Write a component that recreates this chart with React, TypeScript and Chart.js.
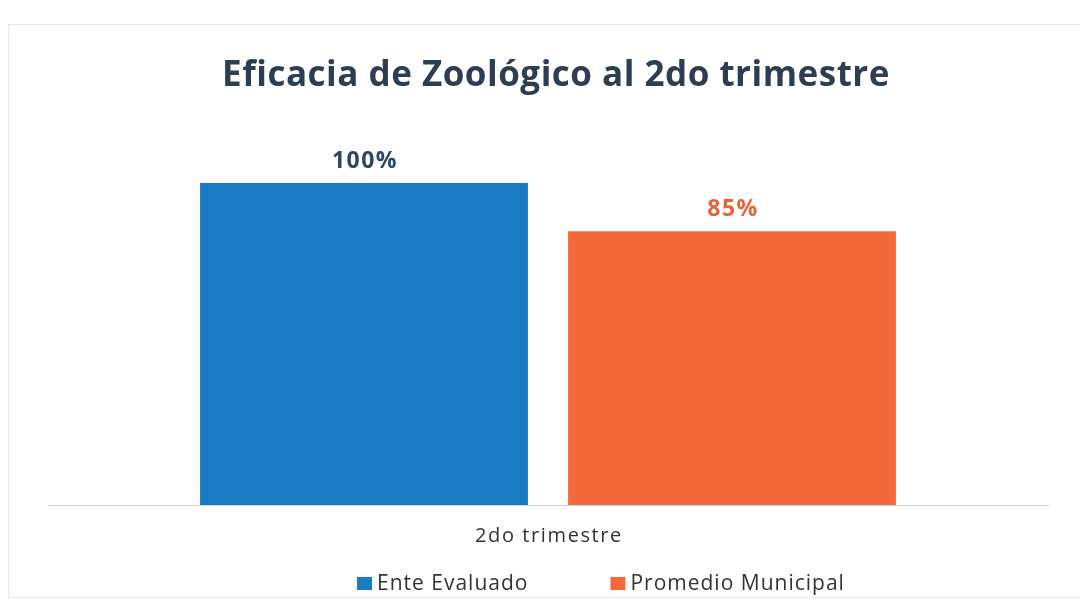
import React, { useEffect, useRef } from "react";
import { Chart, registerables } from "chart.js";

Chart.register(...registerables);

const title = "Eficacia de Zoológico al 2do trimestre";
const categories = ["2do trimestre"];
const seriesNames = ["Ente Evaluado", "Promedio Municipal"];
const enteEvaluado = [100];
const promedioMunicipal = [85];
const seriesColors = ["#1b7bc3", "#f4693a"];
const labelColors = ["#2b4767", "#e8643a"];

const FONT = "'Open Sans', 'Noto Sans', sans-serif";

const overlayPlugin = {
  id: "overlay",
  afterDatasetsDraw(chart: any) {
    const ctx = chart.ctx;
    ctx.save();
    // value labels
    chart.data.datasets.forEach((ds: any, di: number) => {
      const meta = chart.getDatasetMeta(di);
      meta.data.forEach((bar: any, i: number) => {
        ctx.font = `bold 23px ${FONT}`;
        ctx.letterSpacing = "1.5px";
        ctx.fillStyle = labelColors[di];
        ctx.textAlign = "center";
        ctx.textBaseline = "alphabetic";
        ctx.fillText(`${ds.data[i]}%`, bar.x + 1, bar.y - 15);
      });
    });
    // category label
    const xs = chart.scales.x;
    ctx.font = `500 20px ${FONT}`;
    ctx.letterSpacing = "1.6px";
    ctx.fillStyle = "#333333";
    ctx.textAlign = "center";
    ctx.textBaseline = "alphabetic";
    categories.forEach((c, i) => {
      ctx.fillText(c, xs.getPixelForValue(i) + 1, chart.chartArea.bottom + 37);
    });
    // title
    ctx.font = `bold 35px ${FONT}`;
    ctx.letterSpacing = "0.5px";
    ctx.fillStyle = "#2e3e52";
    ctx.textAlign = "center";
    ctx.textBaseline = "alphabetic";
    ctx.fillText(title, 556, 86);
    // legend
    ctx.font = `500 21px ${FONT}`;
    ctx.letterSpacing = "1px";
    ctx.textBaseline = "alphabetic";
    ctx.textAlign = "left";
    const baseline = 590;
    const gap = 82;
    const boxW = 15;
    const boxH = 13;
    const textGap = 5;
    const widths = seriesNames.map((n) => boxW + textGap + ctx.measureText(n).width);
    let x = 357;
    seriesNames.forEach((n, i) => {
      ctx.fillStyle = seriesColors[i];
      ctx.fillRect(x, baseline - boxH, boxW, boxH);
      ctx.fillStyle = "#333333";
      ctx.fillText(n, x + boxW + textGap, baseline);
      x += widths[i] + gap;
    });
    ctx.restore();
  },
};

export default function App() {
  const ref = useRef<HTMLCanvasElement>(null);
  useEffect(() => {
    document.body.style.margin = "0";
    const chart = new Chart(ref.current!, {
      type: "bar",
      data: {
        labels: categories,
        datasets: [
          {
            label: seriesNames[0],
            data: enteEvaluado,
            backgroundColor: seriesColors[0],
            barPercentage: 0.891,
            categoryPercentage: 0.736,
          },
          {
            label: seriesNames[1],
            data: promedioMunicipal,
            backgroundColor: seriesColors[1],
            barPercentage: 0.891,
            categoryPercentage: 0.736,
          },
        ],
      },
      options: {
        animation: false,
        responsive: false,
        layout: { padding: { top: 183, left: 48, right: 32, bottom: 105 } },
        plugins: {
          legend: { display: false },
          title: { display: false },
          tooltip: { enabled: false },
        },
        scales: {
          x: {
            grid: { display: false, drawTicks: false },
            border: { display: true, color: "#d2d2d2", width: 1 },
            ticks: { display: false },
          },
          y: {
            display: false,
            min: 0,
            max: 100,
          },
        },
      },
      plugins: [overlayPlugin],
    });
    return () => chart.destroy();
  }, []);
  return (
    <div style={{ position: "relative", width: 1080, height: 610, background: "#ffffff" }}>
      <div
        style={{
          position: "absolute",
          left: 8,
          top: 24,
          width: 1080,
          height: 574,
          border: "1px solid #e6e6ec",
          boxSizing: "border-box",
        }}
      />
      <canvas ref={ref} width={1080} height={610} style={{ position: "absolute", left: 0, top: 0 }} />
    </div>
  );
}
